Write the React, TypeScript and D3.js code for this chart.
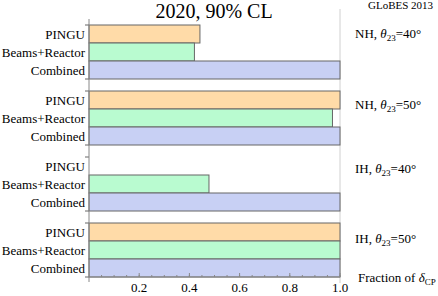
import React from 'react';
import * as d3 from 'd3';

const categories = ['PINGU', 'Beams+Reactor', 'Combined'];
const scenarios = ['NH|40', 'NH|50', 'IH|40', 'IH|50'];
const pingu = [0.442, 1.0, 0, 1.0];
const beams = [0.42, 0.97, 0.478, 1.0];
const combined = [1.0, 1.0, 1.0, 1.0];
const xTicks = [0.2, 0.4, 0.6, 0.8, 1.0];

const series = [pingu, beams, combined];
const colors = ['#ffdba8', '#b9fbd0', '#c8d0f4'];
const labelDy = [13, 18, 16, 20];

const W = 438;
const H = 296;
const font = '"Liberation Serif", "Times New Roman", serif';

export default function App() {
  const x = d3.scaleLinear().domain([0, 1]).range([89, 340]);
  const y = d3.scaleBand().domain(scenarios).range([25, 277]).paddingInner(12 / 66).paddingOuter(0);
  const yi = d3.scaleBand().domain(categories).range([0, y.bandwidth()]);
  const minor = d3.range(0.05, 1.0001, 0.05);

  return (
    <svg width={W} height={H} style={{ position: 'fixed', left: 0, top: 0, background: '#fff' }} fontFamily={font}>
      {/* grid line at 1.0 */}
      <line x1={x(1)} x2={x(1)} y1={9} y2={283} stroke="#d0d0d0" strokeWidth={1} />
      {scenarios.map((s, gi) => {
        const g0 = y(s)!;
        const [h, th] = s.split('|');
        return (
          <g key={s}>
            {categories.map((c, ci) => {
              const v = series[ci][gi];
              const by = g0 + yi(c)!;
              return (
                <g key={c}>
                  {v > 0 && (
                    <rect x={x(0)} y={by} width={x(v) - x(0)} height={yi.bandwidth()}
                      fill={colors[ci]} stroke="#666" strokeWidth={1} />
                  )}
                  <text x={85} y={by + yi.bandwidth() / 2 + 4.5} textAnchor="end" fontSize={13}>{c}</text>
                </g>
              );
            })}
            <line x1={85} x2={89} y1={g0} y2={g0} stroke="#666" />
            <line x1={85} x2={89} y1={g0 + y.bandwidth()} y2={g0 + y.bandwidth()} stroke="#666" />
            <text x={355} y={g0 + labelDy[gi]} fontSize={13}>
              {h}, <tspan fontStyle="italic">θ</tspan><tspan fontSize={9} dy={3}>23</tspan><tspan dy={-3}>={th}°</tspan>
            </text>
          </g>
        );
      })}
      {/* left axis */}
      <line x1={x(0)} x2={x(0)} y1={19} y2={282} stroke="#888" />
      {/* bottom axis */}
      <line x1={x(0)} x2={x(1)} y1={277} y2={277} stroke="#888" />
      {minor.map((t) => (
        <line key={'m' + t} x1={x(t)} x2={x(t)} y1={277} y2={275} stroke="#888" />
      ))}
      {xTicks.map((t) => (
        <g key={t}>
          <line x1={x(t)} x2={x(t)} y1={277} y2={273} stroke="#888" />
          <text x={x(t)} y={292} textAnchor="middle" fontSize={13}>{t.toFixed(1)}</text>
        </g>
      ))}
      <text x={358} y={282} fontSize={13}>
        Fraction of <tspan fontStyle="italic">δ</tspan><tspan fontSize={9} dy={3}>CP</tspan>
      </text>
      <text x={214} y={18} textAnchor="middle" fontSize={20}>2020, 90% CL</text>
      <text x={368} y={9} fontSize={11}>GLoBES 2013</text>
    </svg>
  );
}
